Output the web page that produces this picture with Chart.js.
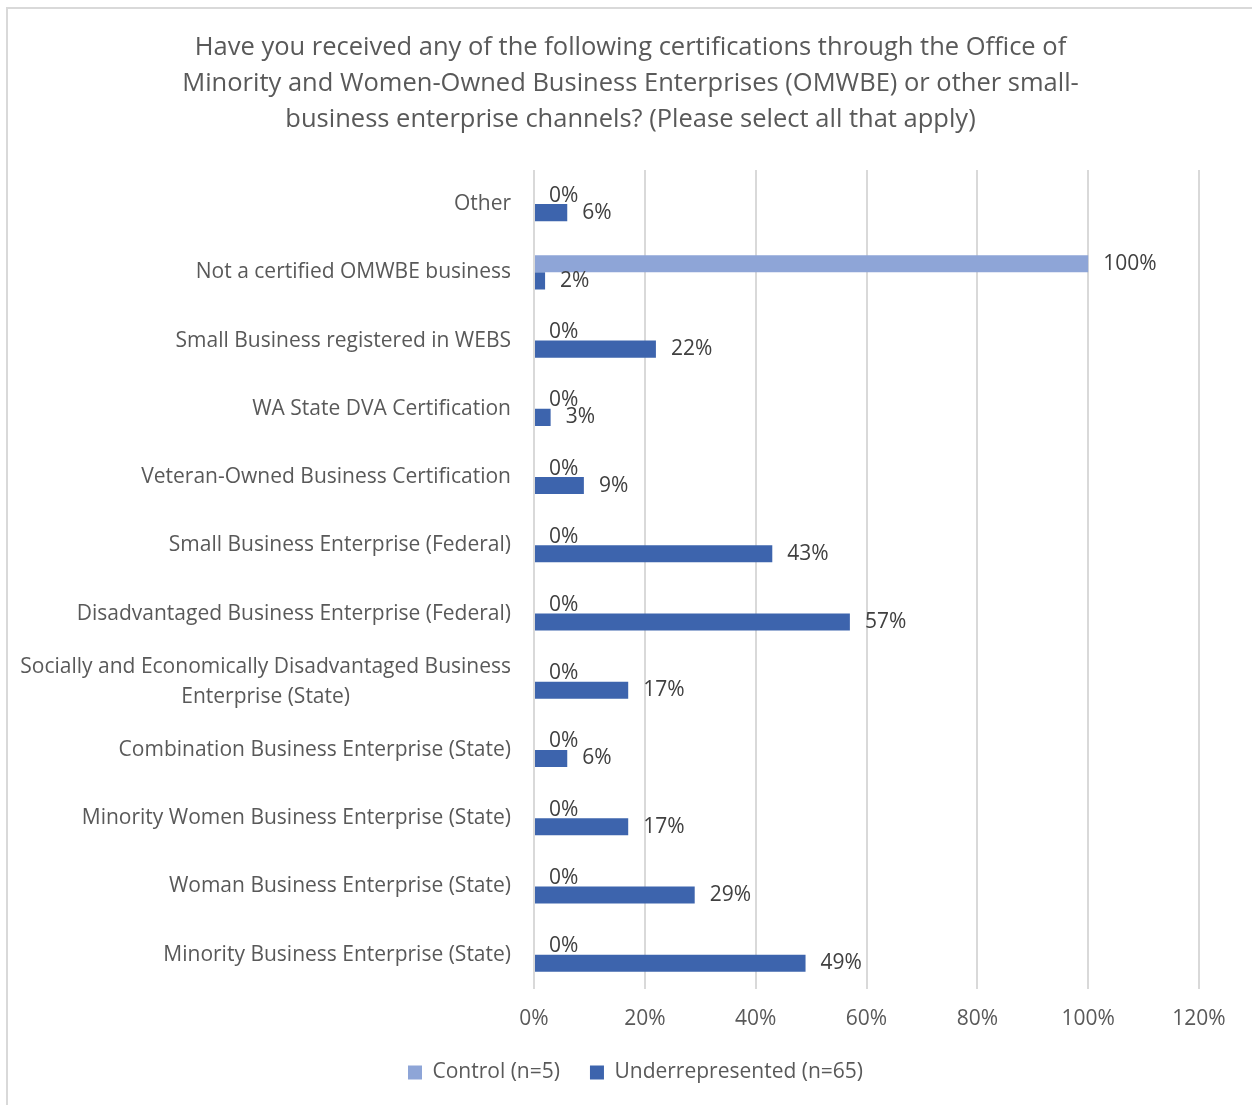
<!DOCTYPE html>
<html>
<head>
<meta charset="utf-8">
<script src="https://cdn.jsdelivr.net/npm/chart.js@4.4.0/dist/chart.umd.min.js"></script>
<style>
    html, body { margin: 0; padding: 0; background: #fff; }
    #wrap { position: relative; width: 1252px; height: 1105px; overflow: hidden; }
    #frame { position: absolute; left: 6px; top: 7px; width: 1300px; height: 1200px; border: 2px solid #d9d9d9; box-sizing: border-box; }
    #chartCert { position: absolute; left: 0; top: 0; }
</style>
</head>
<body>
<div id="wrap">
    <div id="frame"></div>
    <canvas id="chartCert" width="1252" height="1105"></canvas>
</div>
<script>
// Certification survey chart

const titleLines = [
    'Have you received any of the following certifications through the Office of',
    'Minority and Women-Owned Business Enterprises (OMWBE) or other small-',
    'business enterprise channels? (Please select all that apply)'
];

const categories = [
    'Other',
    'Not a certified OMWBE business',
    'Small Business registered in WEBS',
    'WA State DVA Certification',
    'Veteran-Owned Business Certification',
    'Small Business Enterprise (Federal)',
    'Disadvantaged Business Enterprise (Federal)',
    ['Socially and Economically Disadvantaged Business', 'Enterprise (State)'],
    'Combination Business Enterprise (State)',
    'Minority Women Business Enterprise (State)',
    'Woman Business Enterprise (State)',
    'Minority Business Enterprise (State)'
];

const controlValues = [0, 100, 0, 0, 0, 0, 0, 0, 0, 0, 0, 0];
const underrepValues = [6, 2, 22, 3, 9, 43, 57, 17, 6, 17, 29, 49];

const xTicks = [0, 20, 40, 60, 80, 100, 120];

const fontFamily = '"Open Sans", Lato, sans-serif';
const textColor = '#595959';

// move a box (title / legend) sideways when it is drawn
function shiftBox(chart, box, dx) {
    if (box && !box._shifted) {
        const orig = box.draw;
        box.draw = function() {
            chart.ctx.save();
            chart.ctx.translate(dx, 0);
            orig.apply(this, arguments);
            chart.ctx.restore();
        };
        box._shifted = true;
    }
}

// draws the value labels and the category labels (centered lines for wrapped ones)
const labelPlugin = {
    id: 'labelPlugin',
    afterLayout(chart) {
        shiftBox(chart, chart.legend, 36);
        shiftBox(chart, chart.titleBlock, 31);
    },
    afterDatasetsDraw(chart) {
        const ctx = chart.ctx;
        ctx.save();
        ctx.font = '21px ' + fontFamily;
        ctx.fillStyle = '#404040';
        ctx.textAlign = 'left';
        ctx.textBaseline = 'middle';
        chart.data.datasets.forEach((ds, i) => {
            const meta = chart.getDatasetMeta(i);
            meta.data.forEach((bar, j) => {
                ctx.fillText(ds.data[j] + '%', bar.x + 15, bar.y);
            });
        });

        const yScale = chart.scales.y;
        ctx.fillStyle = textColor;
        const right = chart.chartArea.left - 23;
        yScale.ticks.forEach((t, i) => {
            const y = yScale.getPixelForTick(i);
            const lbl = categories[i];
            if (Array.isArray(lbl)) {
                const w = Math.max(...lbl.map(s => ctx.measureText(s).width));
                const cx = right - w / 2;
                ctx.textAlign = 'center';
                const lh = 30;
                lbl.forEach((s, k) => {
                    ctx.fillText(s, cx, y + (k - (lbl.length - 1) / 2) * lh);
                });
            } else {
                ctx.textAlign = 'right';
                ctx.fillText(lbl, right, y);
            }
        });
        ctx.restore();
    }
};

const ctxCert = document.getElementById('chartCert');
new Chart(ctxCert, {
    type: 'bar',
    data: {
        labels: categories,
        datasets: [{
                label: 'Control (n=5)',
                data: controlValues,
                backgroundColor: '#8ea5d7',
                borderWidth: 0,
                categoryPercentage: 0.5,
                barPercentage: 1.0
            },
            {
                label: 'Underrepresented (n=65)',
                data: underrepValues,
                backgroundColor: '#3d64ad',
                borderWidth: 0,
                categoryPercentage: 0.5,
                barPercentage: 1.0
            }
        ]
    },
    options: {
        indexAxis: 'y',
        responsive: false,
        animation: false,
        devicePixelRatio: 1,
        layout: {
            padding: { left: 0, right: 53, top: 10, bottom: 12 }
        },
        plugins: {
            title: {
                display: true,
                text: titleLines,
                color: textColor,
                font: { family: fontFamily, size: 25.5, weight: 'normal', lineHeight: '36px' },
                padding: { top: 20, bottom: 32 }
            },
            legend: {
                display: true,
                position: 'bottom',
                labels: {
                    color: textColor,
                    font: { family: fontFamily, size: 21 },
                    boxWidth: 14,
                    boxHeight: 14,
                    padding: 30
                }
            },
            tooltip: { enabled: false }
        },
        scales: {
            x: {
                min: 0,
                max: 120,
                afterBuildTicks(scale) {
                    scale.ticks = xTicks.map(v => ({ value: v }));
                },
                afterFit(scale) {
                    scale.height = scale.height - 18;
                },
                ticks: {
                    color: textColor,
                    font: { family: fontFamily, size: 21 },
                    padding: 18,
                    callback: v => v + '%'
                },
                grid: {
                    color: '#d9d9d9',
                    lineWidth: 2,
                    drawTicks: false
                },
                border: { display: false }
            },
            y: {
                afterFit(scale) {
                    scale.width = 534;
                },
                ticks: {
                    color: 'rgba(0,0,0,0)',
                    font: { family: fontFamily, size: 20 }
                },
                grid: { display: false },
                border: { display: false }
            }
        }
    },
    plugins: [labelPlugin]
});
</script>
</body>
</html>
